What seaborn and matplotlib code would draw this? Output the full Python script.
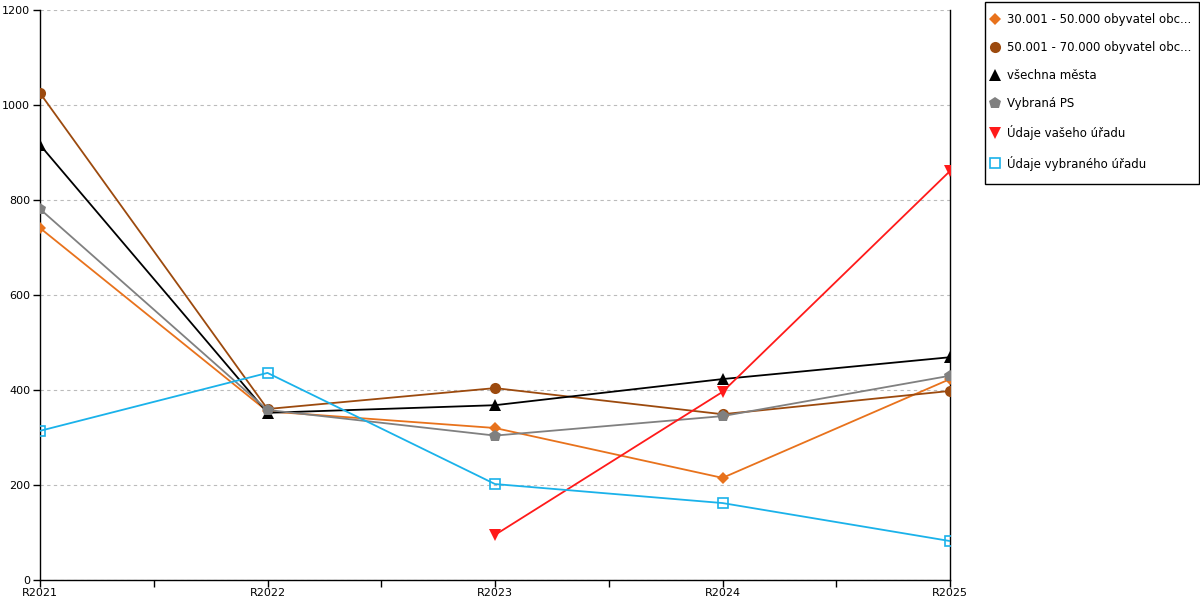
import matplotlib
matplotlib.use("Agg")
import matplotlib.pyplot as plt
import seaborn as sns
import pandas as pd
import numpy as np
from matplotlib.ticker import MultipleLocator, FixedLocator
from matplotlib.patches import Rectangle

years = ["R2021", "R2022", "R2023", "R2024", "R2025"]
s_30_50 = [741, 355, 320, 215, 423]
s_50_70 = [1025, 360, 404, 349, 398]
s_all = [916, 352, 368, 423, 469]
s_ps = [781, 358, 304, 345, 430]
s_vas = [np.nan, np.nan, 95, 396, 861]
s_vybr = [314, 436, 202, 162, 82]

labels = ["30.001 - 50.000 obyvatel obc...", "50.001 - 70.000 obyvatel obc...",
          "všechna města", "Vybraná PS", "Údaje vašeho úřadu", "Údaje vybraného úřadu"]
series = [s_30_50, s_50_70, s_all, s_ps, s_vas, s_vybr]
colors = ["#E8721C", "#9C4A0E", "#000000", "#808080", "#FF1A1A", "#1AB2EA"]
markers = ["D", "o", "^", "p", "v", "s"]
msizes = [6, 8, 8, 9, 8, 7.5]

sns.set_theme(style="white")
plt.rcParams['font.family'] = ['DejaVu Sans']
plt.rcParams['text.color'] = 'black'
plt.rcParams['xtick.color'] = 'black'
plt.rcParams['ytick.color'] = 'black'

fig = plt.figure(figsize=(12, 6), dpi=100)
ax = fig.add_axes([40/1200, 20/600, 910/1200, 570/600])

rows = []
for lab, vals in zip(labels, series):
    for i, v in enumerate(vals):
        rows.append({"series": lab, "x": i, "value": v})
df = pd.DataFrame(rows)

handles = []
for lab, col, mk, ms in zip(labels, colors, markers, msizes):
    d = df[df.series == lab].dropna()
    face = "none" if mk == "s" else col
    sns.lineplot(data=d, x="x", y="value", ax=ax, color=col, lw=1.3,
                 marker=mk, markersize=ms, markerfacecolor=face,
                 markeredgecolor=col, markeredgewidth=1.2 if mk == "s" else 0,
                 legend=False, sort=False, zorder=3)
    handles.append(plt.Line2D([], [], color=col, lw=0, marker=mk, markersize=ms,
                              markerfacecolor=face, markeredgecolor=col,
                              markeredgewidth=1.2 if mk == "s" else 0))

ax.set_xlim(0, 4)
ax.set_ylim(0, 1200)
ax.yaxis.set_major_locator(MultipleLocator(200))
ax.set_xticks(range(5))
ax.set_xticklabels(years)
ax.xaxis.set_minor_locator(FixedLocator([0.5, 1.5, 2.5, 3.5]))
ax.set_xlabel("")
ax.set_ylabel("")
ax.grid(axis="y", color="#BBBBBB", linestyle=(0, (3, 3)), lw=0.8)
ax.set_axisbelow(True)
for s in ["left", "right", "bottom"]:
    ax.spines[s].set_visible(True)
    ax.spines[s].set_color("black")
    ax.spines[s].set_linewidth(1.0)
ax.spines["top"].set_visible(False)
ax.tick_params(axis="x", which="both", direction="out", length=5, width=1, color="black",
               bottom=True, labelsize=8, pad=1, labelcolor="black")
ax.tick_params(axis="y", direction="out", length=5, width=1, color="black", left=True,
               labelsize=8, pad=2, labelcolor="black")
ax.patch.set_alpha(0)

# legend box frame
fig.patches.append(Rectangle((985/1200, 1 - 184/600), 214/1200, 182/600,
                             transform=fig.transFigure, fill=False,
                             edgecolor="black", lw=1.0, zorder=1))
leg = fig.legend(handles, labels, loc="upper left", bbox_to_anchor=(990/1200, 1 - 13/600),
                 frameon=False, fontsize=8.5, labelspacing=1.28,
                 handlelength=0.8, handletextpad=0.62, borderpad=0, borderaxespad=0)
for t in leg.get_texts():
    t.set_color("black")

fig.savefig("out.png", dpi=100)
